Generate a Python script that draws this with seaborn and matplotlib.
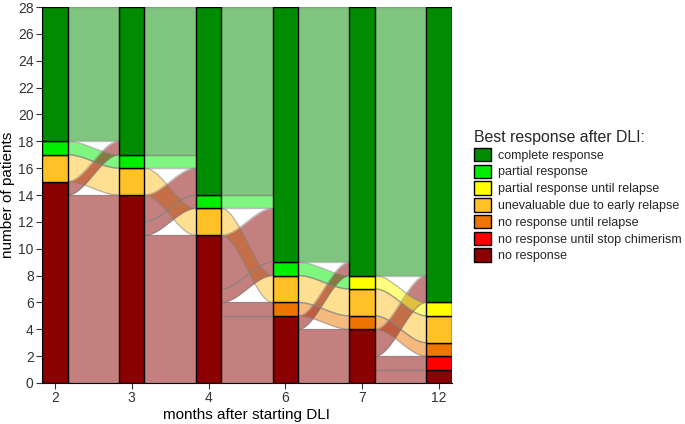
"""Alluvial plot: best response after DLI over time."""
import numpy as np
import matplotlib
matplotlib.use("Agg")
import matplotlib.pyplot as plt
from matplotlib.patches import Patch
import seaborn as sns

months = ["2", "3", "4", "6", "7", "12"]

# response categories, bottom to top of each stack
codes = ["NR", "SC", "NRR", "UE", "PRR", "PR", "CR"]
labels = ["no response", "no response until stop chimerism", "no response until relapse",
          "unevaluable due to early relapse", "partial response until relapse",
          "partial response", "complete response"]
colors = ["#8B0000", "#FF0000", "#EE7600", "#FFC125", "#FFFF00", "#00EE00", "#008B00"]

# patients moving between consecutive time points: (from, to, n)
flows_2_3 = [("NR", "NR", 14), ("NR", "CR", 1), ("UE", "UE", 2), ("PR", "PR", 1), ("CR", "CR", 10)]
flows_3_4 = [("NR", "NR", 11), ("NR", "PR", 1), ("NR", "CR", 2), ("UE", "UE", 2), ("PR", "CR", 1),
             ("CR", "CR", 11)]
flows_4_6 = [("NR", "NR", 5), ("NR", "NRR", 1), ("NR", "PR", 1), ("NR", "CR", 4), ("UE", "UE", 2),
             ("PR", "CR", 1), ("CR", "CR", 14)]
flows_6_7 = [("NR", "NR", 4), ("NR", "CR", 1), ("NRR", "NRR", 1), ("UE", "UE", 2), ("PR", "PRR", 1),
             ("CR", "CR", 19)]
flows_7_12 = [("NR", "NR", 1), ("NR", "SC", 1), ("NR", "CR", 2), ("NRR", "NRR", 1), ("UE", "UE", 2),
              ("PRR", "PRR", 1), ("CR", "CR", 20)]
all_flows = [flows_2_3, flows_3_4, flows_4_6, flows_6_7, flows_7_12]

# order in which flows are painted (later = on top)
draw_order = ["CR", "PR", "UE", "NRR", "SC", "NR", "PRR"]

rank = {c: i for i, c in enumerate(codes)}
col = dict(zip(codes, colors))


def stack_counts(flows, side):
    counts = dict.fromkeys(codes, 0)
    for a, b, n in flows:
        counts[a if side == 0 else b] += n
    return counts


stacks = [stack_counts(f, 0) for f in all_flows] + [stack_counts(all_flows[-1], 1)]

sns.set_theme(style="ticks")
plt.rcParams["font.family"] = ["Liberation Sans", "DejaVu Sans"]

fig, ax = plt.subplots(figsize=(6.85, 4.24), dpi=100)
fig.subplots_adjust(left=42 / 685, right=452 / 685, top=1 - 7 / 424, bottom=1 - 383 / 424)

w = 1 / 3

# flows
for i, flows in enumerate(all_flows):
    left_base, right_base = {}, {}
    acc = 0
    for c in codes:
        left_base[c] = acc
        acc += stacks[i][c]
    acc = 0
    for c in codes:
        right_base[c] = acc
        acc += stacks[i + 1][c]
    left_pos, right_pos = {}, {}
    for f in sorted(flows, key=lambda f: (rank[f[0]], rank[f[1]])):
        left_pos[f] = left_base[f[0]]
        left_base[f[0]] += f[2]
    for f in sorted(flows, key=lambda f: (rank[f[1]], rank[f[0]])):
        right_pos[f] = right_base[f[1]]
        right_base[f[1]] += f[2]

    x0, x1 = i + w / 2, i + 1 - w / 2
    xs = np.linspace(x0, x1, 100)
    t = (xs - x0) / (x1 - x0)
    s = 3 * t ** 2 - 2 * t ** 3
    for f in sorted(flows, key=lambda f: draw_order.index(f[0])):
        y0, y1 = left_pos[f], right_pos[f]
        lo = y0 + (y1 - y0) * s
        hi = lo + f[2]
        ax.fill_between(xs, lo, hi, facecolor=col[f[0]], alpha=0.5, lw=0, zorder=1)
        ax.plot(xs, lo, color="grey", alpha=0.5, lw=1, zorder=1.5)
        ax.plot(xs, hi, color="grey", alpha=0.5, lw=1, zorder=1.5)

# strata
for i, counts in enumerate(stacks):
    bottom = 0
    for c in codes:
        if counts[c] > 0:
            ax.bar(i, counts[c], bottom=bottom, width=w, color=col[c], edgecolor="black",
                   linewidth=1, zorder=3)
        bottom += counts[c]

ax.set_xlim(-w / 2, len(months) - 1 + w / 2)
ax.set_ylim(0, 28)
ax.set_xticks(range(len(months)))
ax.set_xticklabels(months)
ax.set_yticks(range(0, 29, 2))
ax.tick_params(axis="both", labelsize=10, length=4, width=0.8, color="#333333", labelcolor="#333333", pad=2)
ax.set_xlabel("months after starting DLI", fontsize=11, color="black", labelpad=2)
ax.set_ylabel("number of patients", fontsize=11, color="black", labelpad=2)
for sp in ["left", "bottom"]:
    ax.spines[sp].set_color("black")
    ax.spines[sp].set_linewidth(0.8)
sns.despine(ax=ax)

handles = [Patch(facecolor=col[c], edgecolor="black", linewidth=1) for c in codes[::-1]]
leg = fig.legend(handles, labels[::-1], title="Best response after DLI:", loc="upper left",
                 bbox_to_anchor=(474 / 685, 1 - 130 / 424), frameon=False, fontsize=9,
                 title_fontsize=11.4, alignment="left", borderpad=0, handlelength=1.35,
                 handleheight=1.3, handletextpad=0.6, labelspacing=0.22, borderaxespad=0)

fig.savefig("out.png", dpi=100)
